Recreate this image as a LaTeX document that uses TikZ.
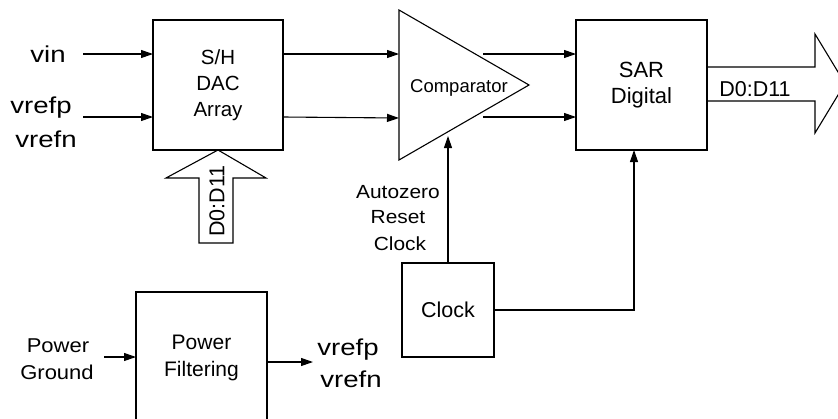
\documentclass[tikz,border=0pt]{standalone}
\usepackage{fontspec}
\setmainfont{Liberation Sans}
\newfontfamily\wideA{Liberation Sans}[FakeStretch=1.2]
\newfontfamily\wideB{Liberation Sans}[FakeStretch=1.1]
\usetikzlibrary{arrows.meta}
\tikzset{
  box/.style={draw, line width=1.1pt, inner sep=0pt, outer sep=0pt, align=center},
  lab/.style={anchor=base, inner sep=0pt, outer sep=0pt},
  arr/.style={-{Triangle[length=12pt,width=8pt]}, line width=1.1pt},
  wire/.style={line width=1.1pt},
  big/.style={line width=1.1pt, line join=miter},
  biglbl/.style={font=\wideA\fontsize{23}{28}\selectfont},
}
\begin{document}
\begin{tikzpicture}[x=1pt,y=-1pt]
\useasboundingbox (0,0) rectangle (838,418);
\clip (0,0) rectangle (838,418);

% blocks
\node[box, minimum width=130pt, minimum height=130pt, font=\fontsize{20.5}{26}\selectfont] (sh) at (218,85) {S/H\\DAC\\Array};
\node[box, minimum width=131pt, minimum height=130pt, font=\fontsize{22}{26}\selectfont] (sar) at (641.5,85) {SAR\\Digital};
\node[box, minimum width=92pt, minimum height=94pt, font=\fontsize{21.5}{26}\selectfont] (clk) at (448,310) {Clock};
\node[box, minimum width=131pt, minimum height=131pt, font=\fontsize{21}{27}\selectfont] (pf) at (201.5,357.5) {Power\\Filtering};

% comparator triangle
\coordinate (ct) at (399,10);
\coordinate (cb) at (399,160);
\coordinate (ctip) at (529,85);
\draw[wire, line join=miter] (ct) -- (cb) -- (ctip) -- cycle;
\node[inner sep=0pt, font=\fontsize{18.5}{22}\selectfont] (comp) at (459,88) {Comparator};

% input labels
\node[lab, biglbl] (vin) at (48,62) {vin};
\node[lab, biglbl] (vrefp) at (41,113) {vrefp};
\node[lab, biglbl] (vrefn) at (46,147) {vrefn};
\node[lab, font=\wideB\fontsize{19}{24}\selectfont] (az) at (398,198) {Autozero};
\node[lab, font=\wideB\fontsize{19}{24}\selectfont] (rst) at (398,223) {Reset};
\node[lab, font=\wideB\fontsize{19}{24}\selectfont] (ck) at (400,250) {Clock};
\node[lab, font=\wideB\fontsize{20}{24}\selectfont] (pw) at (58,352) {Power};
\node[lab, font=\wideB\fontsize{20}{24}\selectfont] (gnd) at (57,379) {Ground};
\node[lab, biglbl] (ovp) at (348,355) {vrefp};
\node[lab, biglbl] (ovn) at (351,387) {vrefn};

% connectors
\coordinate (vinS) at (83,54);
\coordinate (vrS) at (83,117);
\draw[arr] (vinS) -- (sh.west |- vinS);
\draw[arr] (vrS) -- (sh.west |- vrS);
\draw[arr] (sh.east |- vinS) -- (ct |- vinS);
\draw[arr] (sh.east |- vrS) -- (399,118);
\coordinate (co1) at (483,54);
\coordinate (co2) at (483,117);
\draw[arr] (co1) -- (sar.west |- co1);
\draw[arr] (co2) -- (sar.west |- co2);
\coordinate (cin) at (448,136);
\draw[arr] (clk.north) -- (cin);
\coordinate (sarin) at (634,150);
\draw[arr] (clk.east) -| (sarin);
\coordinate (pwS) at (104,357);
\draw[arr] (pwS) -- (pf.west |- pwS);
\coordinate (pfo) at (313,362);
\draw[arr] (pf.east |- pfo) -- (pfo);

% bus arrow into S/H
\draw[big] (199,243) -- (233,243) -- (233,178) -- (266,178) -- (sh.south) -- (166,178) -- (199,178) -- cycle;
\node[inner sep=0pt, rotate=90, font=\fontsize{21.5}{26}\selectfont] (busin) at (217,201) {D0:D11};

% bus arrow out of SAR
\draw[big] (sar.east |- 0,67) -- (815,67) -- (815,34) -- (845,83.5) -- (815,133) -- (815,101) -- (sar.east |- 0,101);
\node[lab, font=\fontsize{21.5}{26}\selectfont] (busout) at (755,96) {D0:D11};
\end{tikzpicture}
\end{document}
